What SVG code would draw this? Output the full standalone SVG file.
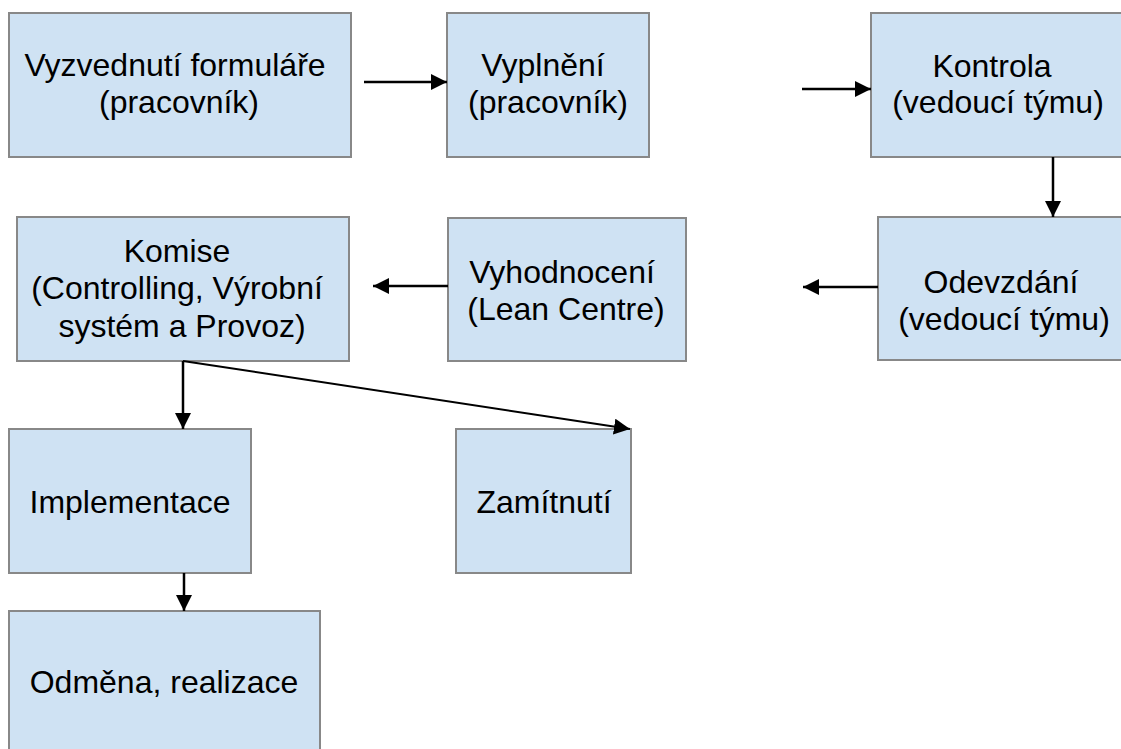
<svg xmlns="http://www.w3.org/2000/svg" width="1121" height="749" viewBox="0 0 1121 749">
<style>
.box{fill:#cfe2f3;stroke:#888;stroke-width:2}
.t{font-family:"Liberation Sans",Arial,sans-serif;font-size:32px;fill:#000;text-anchor:middle}
.c{stroke:#000;stroke-width:2.5;fill:none}
.d{stroke:#000;stroke-width:2;fill:none}
</style>
<defs>
<marker id="ah" markerUnits="userSpaceOnUse" markerWidth="16" markerHeight="16" refX="16" refY="8" orient="auto">
<path d="M0,0 L16,8 L0,16 Z" fill="#000"/>
</marker>
</defs>
<rect width="1121" height="749" fill="#fff"/>
<g id="n1"><rect class="box" x="9" y="13" width="342" height="144"/><text class="t"><tspan x="175" y="76">Vyzvednutí formuláře</tspan><tspan x="179" y="113">(pracovník)</tspan></text></g>
<g id="n2"><rect class="box" x="447" y="13" width="202" height="144"/><text class="t"><tspan x="543" y="76">Vyplnění</tspan><tspan x="548" y="113">(pracovník)</tspan></text></g>
<g id="n3"><rect class="box" x="871" y="13" width="260" height="144"/><text class="t"><tspan x="992" y="77">Kontrola</tspan><tspan x="998" y="113">(vedoucí týmu)</tspan></text></g>
<g id="n4"><rect class="box" x="878" y="217" width="260" height="143"/><text class="t"><tspan x="1001" y="293">Odevzdání</tspan><tspan x="1004" y="330">(vedoucí týmu)</tspan></text></g>
<g id="n5"><rect class="box" x="448" y="218" width="238" height="143"/><text class="t"><tspan x="562" y="283">Vyhodnocení</tspan><tspan x="566" y="320">(Lean Centre)</tspan></text></g>
<g id="n6"><rect class="box" x="17" y="217" width="332" height="144"/><text class="t"><tspan x="177" y="262">Komise</tspan><tspan x="177" y="299">(Controlling, Výrobní</tspan><tspan x="182" y="337">systém a Provoz)</tspan></text></g>
<g id="n7"><rect class="box" x="9" y="429" width="242" height="144"/><text class="t" x="130" y="513">Implementace</text></g>
<g id="n8"><rect class="box" x="456" y="429" width="175" height="144"/><text class="t" x="544" y="513">Zamítnutí</text></g>
<g id="n9"><rect class="box" x="9" y="611" width="311" height="150"/><text class="t" x="164" y="693">Odměna, realizace</text></g>
<g id="connectors">
<line class="c" x1="364" y1="82" x2="447" y2="82" marker-end="url(#ah)"/>
<line class="c" x1="802" y1="89" x2="871" y2="89" marker-end="url(#ah)"/>
<line class="c" x1="1053" y1="157" x2="1053" y2="217" marker-end="url(#ah)"/>
<line class="c" x1="878" y1="287" x2="803" y2="287" marker-end="url(#ah)"/>
<line class="c" x1="448" y1="286" x2="373" y2="286" marker-end="url(#ah)"/>
<line class="c" x1="183" y1="361" x2="183" y2="429" marker-end="url(#ah)"/>
<line class="d" x1="183" y1="361" x2="630" y2="429" marker-end="url(#ah)"/>
<line class="c" x1="184" y1="573" x2="184" y2="611" marker-end="url(#ah)"/>
</g>
</svg>
